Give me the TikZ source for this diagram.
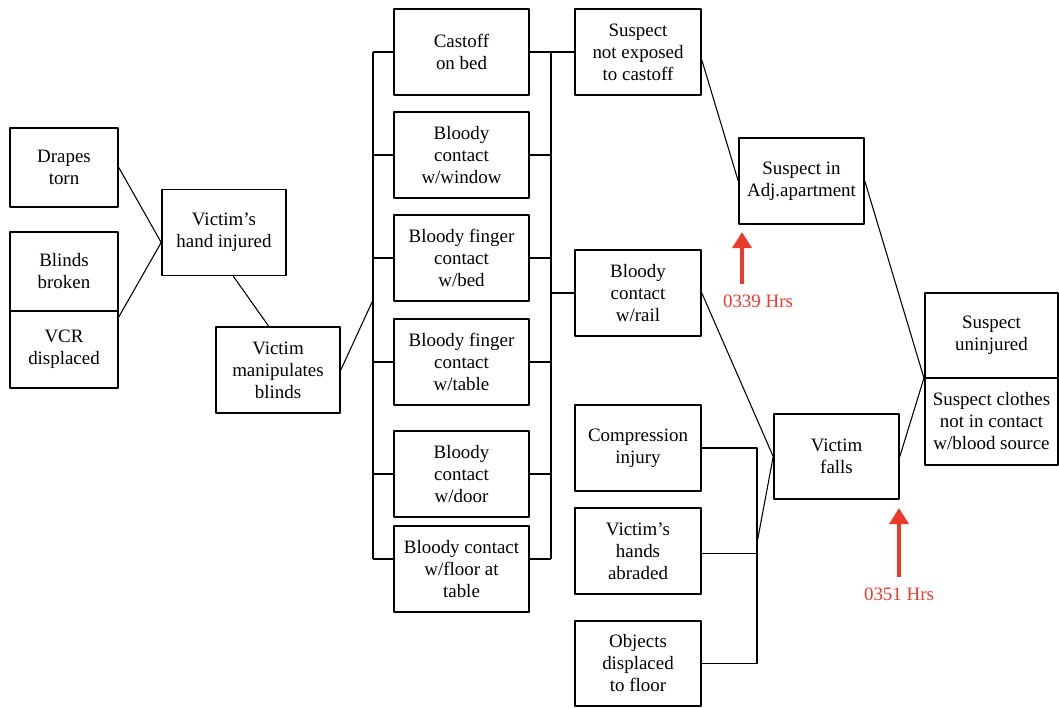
\documentclass[tikz,border=0pt]{standalone}
\usepackage{fontspec}
\setmainfont{Liberation Serif}
\usepackage{xcolor}
\usepackage{tikz}
\usetikzlibrary{arrows.meta}

\definecolor{hrsred}{RGB}{236,58,42}

\begin{document}
\begin{tikzpicture}[x=0.75pt, y=-0.75pt, line join=round,
    box/.style={draw, line width=1.2pt, align=center, inner sep=1pt,
      minimum width=#1*0.75pt, font=\fontsize{14.2}{16.5}\selectfont},
    box/.default=135,
    ht/.style={minimum height=#1*0.75pt},
    link/.style={line width=0.8pt},
    timemark/.style={hrsred, line width=3pt, -{Triangle[width=14pt,length=12pt]}},
    timetext/.style={hrsred, font=\fontsize{14.2}{16}\selectfont}]
  \useasboundingbox (0,0) rectangle (1059,707);

  % first column
  \node[box=108, ht=79] (drapes) at (64,167.5) {Drapes\\torn};
  \node[box=108, ht=79] (blinds) at (64,271.5) {Blinds\\broken};
  \node[box=108, ht=77] (vcr) at (64,349.5) {VCR\\displaced};
  \node[box=124, ht=86] (handinj) at (224,232.5) {Victim’s\\hand injured};
  \node[box=124, ht=86] (manip) at (278,370) {Victim\\manipulates\\blinds};

  % contacts
  \node[box, ht=86] (castoff) at (461.5,52) {Castoff\\on bed};
  \node[box, ht=86] (window) at (461.5,155) {Bloody\\contact\\w/window};
  \node[box, ht=86] (fbed) at (461.5,258) {Bloody finger\\contact\\w/bed};
  \node[box, ht=86] (ftable) at (461.5,362) {Bloody finger\\contact\\w/table};
  \node[box, ht=86] (door) at (461.5,474) {Bloody\\contact\\w/door};
  \node[box, ht=86] (floor) at (461.5,569) {Bloody contact\\w/floor at\\table};

  % third column
  \node[box=126, ht=86] (notexp) at (638,52) {Suspect\\not exposed\\to castoff};
  \node[box=126, ht=86] (rail) at (638,293) {Bloody\\contact\\w/rail};
  \node[box=126, ht=86] (compress) at (638,448) {Compression\\injury};
  \node[box=126, ht=86] (abraded) at (638,551) {Victim’s\\hands\\abraded};
  \node[box=126, ht=85] (objects) at (638,663.5) {Objects\\displaced\\to floor};

  % right side
  \node[box=125, ht=86] (adj) at (801.5,181) {Suspect in\\Adj.apartment};
  \node[box=125, ht=85] (falls) at (836.5,456.5) {Victim\\falls};
  \node[box=133, ht=85] (uninj) at (991.5,335.5) {Suspect\\uninjured};
  \node[box=133, ht=87] (clothes) at (991.5,421.5) {Suspect clothes\\not in contact\\w/blood source};

  \coordinate (lbus) at (373,300);
  \coordinate (rbus) at (551,52);
  \coordinate (brk) at (757,543);

  \draw[link] (drapes.east) -- ([yshift=-7.5pt]handinj.west);
  \draw[link] ([yshift=-5pt]vcr.north east) -- ([yshift=-7.5pt]handinj.west);
  \draw[link] ([xshift=7pt]handinj.south) -- ([xshift=-7pt]manip.north);
  \draw[link] (manip.east) -- (lbus);

  % buses either side of the contacts
  \foreach \b in {castoff,window,fbed,ftable,door} {
    \draw[link] (\b.west) -- (\b.west -| lbus);
    \draw[link] (\b.east) -- (\b.east -| rbus);
  }
  \draw[link] ([yshift=7.5pt]floor.west) -- ([yshift=7.5pt]floor.west -| lbus);
  \draw[link] ([yshift=7.5pt]floor.east) -- ([yshift=7.5pt]floor.east -| rbus);
  \draw[link] (castoff.west -| lbus) -- ([yshift=7.5pt]floor.west -| lbus);
  \draw[link] (rbus) -- ([yshift=7.5pt]floor.east -| rbus);
  \draw[link] (rbus) -- (notexp.west);
  \draw[link] (rail.west -| rbus) -- (rail.west);

  % bracket into the fall
  \draw[link] (compress.east) -| (brk |- objects.east) -- (objects.east);
  \draw[link] ([yshift=-2pt]abraded.east) -- ([yshift=-2pt]abraded.east -| brk);
  \draw[link] (brk) -- (falls.west);
  \draw[link] (rail.east) -- (falls.west);

  \draw[link] ([yshift=-6pt]notexp.east) -- (adj.west);
  \draw[link] (adj.east) -- (uninj.south west);
  \draw[link] (falls.east) -- (clothes.north west);

  % times
  \node[timetext] (t339) at (758,301) {0339 Hrs};
  \node[timetext] (t351) at (899,594) {0351 Hrs};
  \coordinate (a339) at (742,284);
  \coordinate (a351) at (899,577);
  \draw[timemark] (a339) -- (742,232);
  \draw[timemark] (a351) -- (899,508);
\end{tikzpicture}
\end{document}
